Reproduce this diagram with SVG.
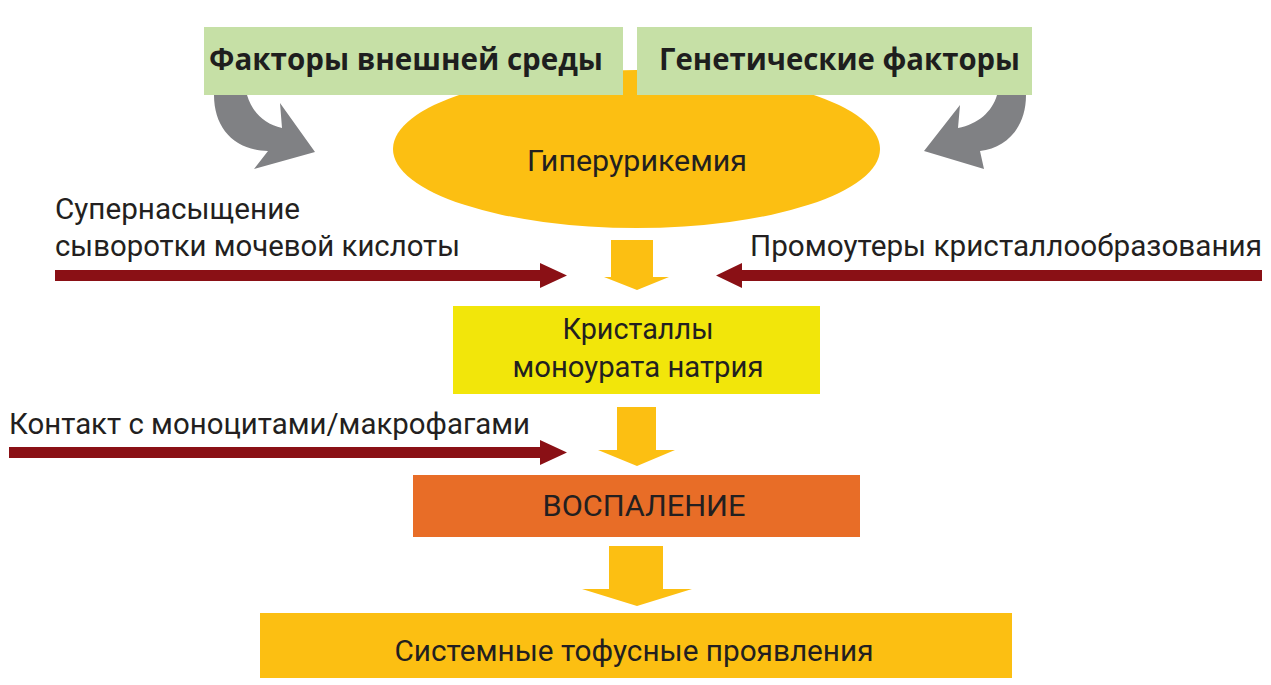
<svg xmlns="http://www.w3.org/2000/svg" width="1271" height="685" viewBox="0 0 1271 685">
<defs>
<style>
.bold{font-family:"Open Sans","Liberation Sans",sans-serif;font-weight:700;font-size:30px;fill:#1e1e1e}
.txt{font-family:"Roboto","Liberation Sans",sans-serif;font-size:29px;fill:#231f20}
.ctr{text-anchor:middle}
.green{fill:#c6e0a6}
.gold{fill:#fcbf12}
.red{fill:#8a1015}
.gray{fill:#808184}
</style>
</defs>
<rect width="1271" height="685" fill="#ffffff"/>
<g id="hyperuricemia">
<ellipse cx="636.5" cy="149" rx="243.5" ry="79" class="gold"/>
<text x="637" y="171" class="txt ctr" textLength="220" lengthAdjust="spacingAndGlyphs">Гиперурикемия</text>
</g>
<g id="env-factors">
<rect x="204" y="27" width="419" height="68" class="green"/>
<text x="209" y="70" class="bold" textLength="394" lengthAdjust="spacingAndGlyphs">Факторы внешней среды</text>
</g>
<g id="genetic-factors">
<rect x="637" y="27" width="395" height="68" class="green"/>
<text x="659" y="70" class="bold" textLength="361" lengthAdjust="spacingAndGlyphs">Генетические факторы</text>
</g>
<g id="label-supersaturation">
<text x="55" y="219" class="txt" textLength="245" lengthAdjust="spacingAndGlyphs">Супернасыщение</text>
<text x="55" y="256" class="txt" textLength="405" lengthAdjust="spacingAndGlyphs">сыворотки мочевой кислоты</text>
</g>
<g id="label-promoters">
<text x="750" y="256" class="txt" textLength="512" lengthAdjust="spacingAndGlyphs">Промоутеры кристаллообразования</text>
</g>
<g id="crystals">
<rect x="453" y="306" width="367" height="88" fill="#f2e60a"/>
<text x="638" y="339" class="txt ctr" textLength="151" lengthAdjust="spacingAndGlyphs">Кристаллы</text>
<text x="638" y="377" class="txt ctr" textLength="251" lengthAdjust="spacingAndGlyphs">моноурата натрия</text>
</g>
<g id="label-contact">
<text x="9" y="434" class="txt" textLength="521" lengthAdjust="spacingAndGlyphs">Контакт с моноцитами/макрофагами</text>
</g>
<g id="inflammation">
<rect x="413" y="475" width="447" height="62" fill="#e86d27"/>
<text x="644" y="516" class="txt ctr" textLength="203" lengthAdjust="spacingAndGlyphs">ВОСПАЛЕНИЕ</text>
</g>
<g id="systemic">
<rect x="260" y="613" width="752" height="65" class="gold"/>
<text x="634" y="661" class="txt ctr" textLength="479" lengthAdjust="spacingAndGlyphs">Системные тофусные проявления</text>
</g>
<g id="connectors">
<path class="gray" d="M214,95 C214,128 234,150 268,151 L254,169 L315,152 L280,103 L282,128 C264,124 252,112 247,95 Z"/>
<path class="gray" d="M1026,95 C1026,128 1006,148 980,151 L984,169 L924,151 L960,105 L958,128 C978,124 992,112 997,95 Z"/>
<path class="gold" d="M611,240 H653 V277 H669 L637,290 L604,277 H611 Z"/>
<path class="gold" d="M617,407 H656 V450 H675 L637,466 L598,450 H617 Z"/>
<path class="gold" d="M609,546 H663 V589 H692 L637,606 L582,589 H609 Z"/>
<path class="red" d="M55,270 H540 V263 L567,275.5 L540,288 V281 H55 Z"/>
<path class="red" d="M1262,270 H742 V263 L716,275.5 L742,288 V281 H1262 Z"/>
<path class="red" d="M9,447 H540 V440 L567,452.5 L540,465 V458 H9 Z"/>
</g>
</svg>
